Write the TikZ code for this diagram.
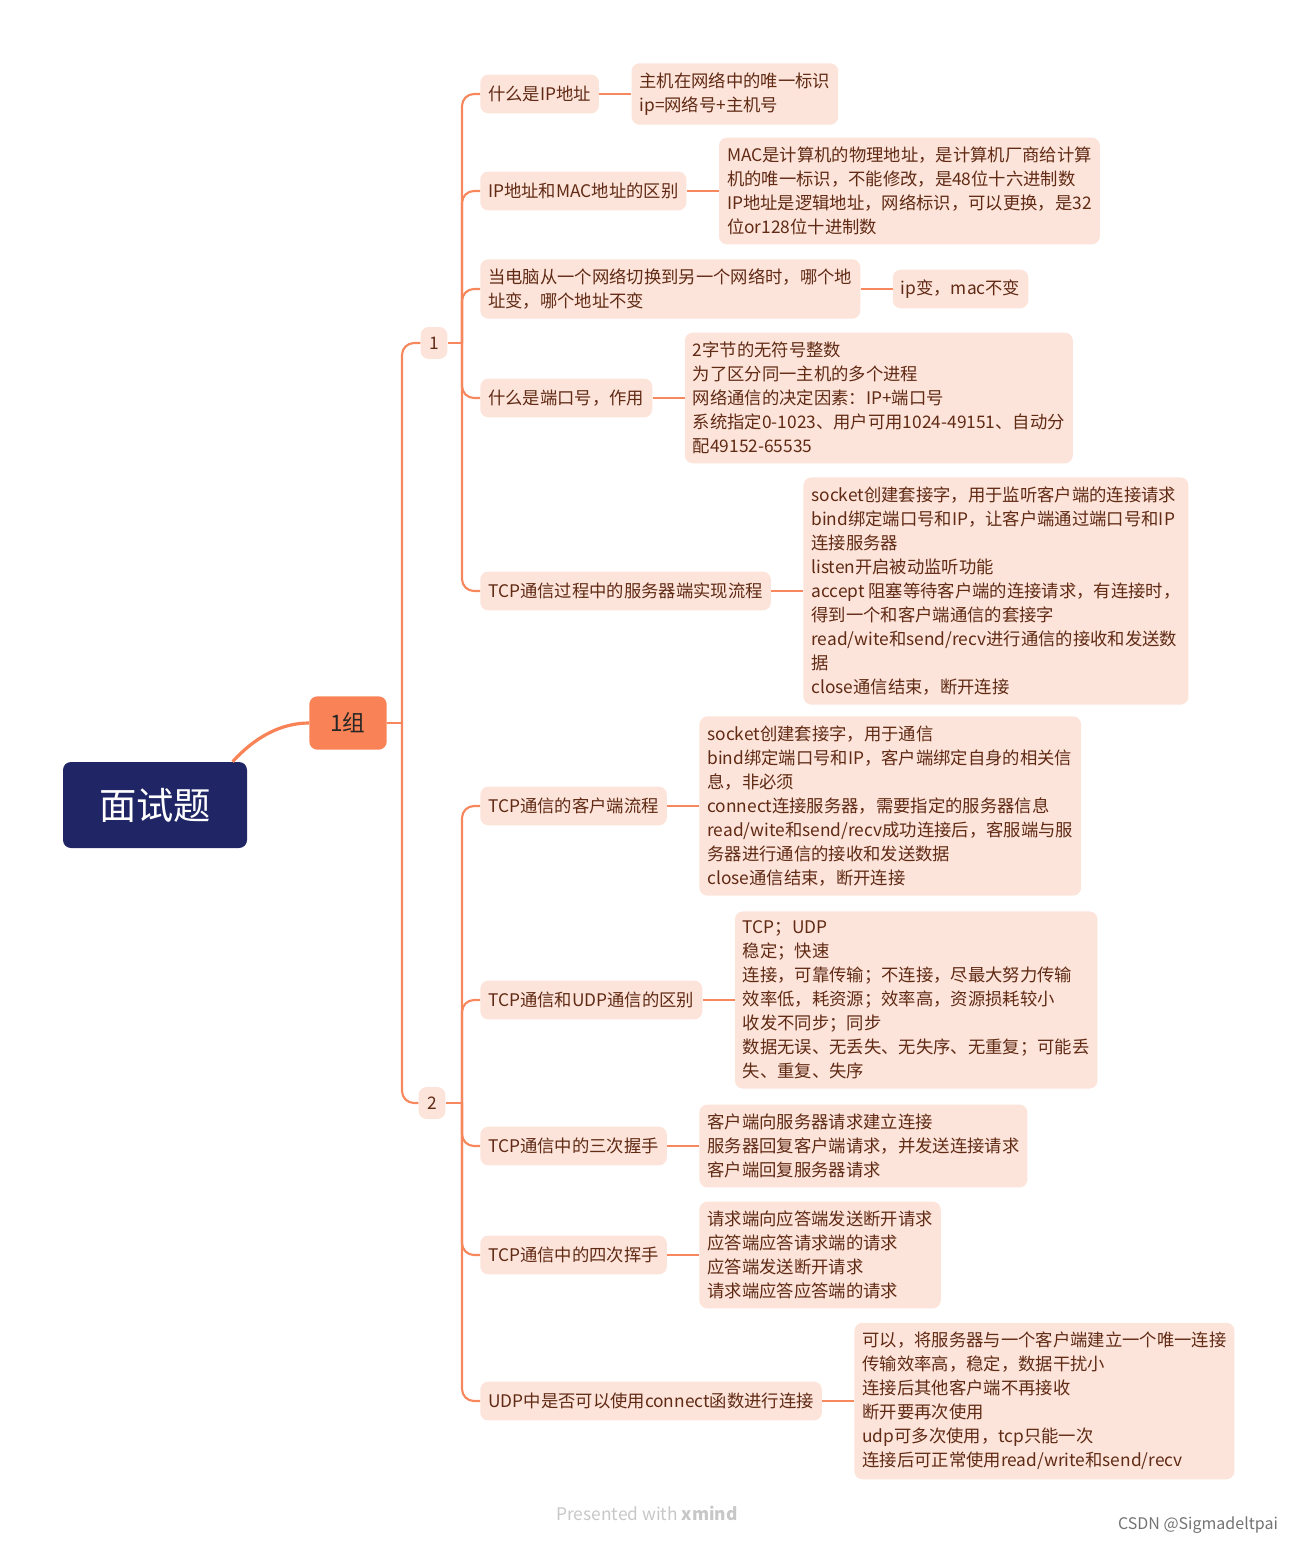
\documentclass[tikz,border=0pt]{standalone}
\usepackage{fontspec}
\setmainfont{Noto Sans CJK SC}
\usepackage{xcolor}
\usepackage{tikz}
\usetikzlibrary{positioning}
\definecolor{navy}{RGB}{31,37,101}
\definecolor{grporange}{RGB}{249,131,86}
\definecolor{linkorange}{RGB}{247,135,92}
\definecolor{peach}{RGB}{253,228,218}
\definecolor{txtbrown}{RGB}{96,42,20}

\begin{document}
\begin{tikzpicture}[
    x=0.75pt, y=-0.75pt,
    link/.style={draw=linkorange, line width=1.6pt},
    rootbox/.style={fill=navy, text=white, rounded corners=6pt, minimum width=138pt, minimum height=64.5pt, font=\fontsize{28}{32}\selectfont},
    grpbox/.style={fill=grporange, text=black!85, rounded corners=6pt, minimum width=58pt, minimum height=40pt, font=\fontsize{17}{20}\selectfont},
    numbox/.style={fill=peach, text=txtbrown, rounded corners=6pt, minimum width=20pt, minimum height=24pt, font=\fontsize{13}{18}\selectfont},
    topic/.style={fill=peach, text=txtbrown, rounded corners=6pt, align=left, inner xsep=6pt, inner ysep=7pt, minimum height=29pt, anchor=west, font=\fontsize{13}{18}\selectfont},
    leaf/.style={topic, right=24pt of #1},
    credit/.style={font=\fontsize{13}{16}\selectfont, text=black!22}
]
\useasboundingbox (0,0) rectangle (1296,1545);

\node[rootbox] (root) at (155,805) {面试题};
\node[grpbox] (grp) at (348,723) {1组};
\node[numbox] (n1) at (434,343) {1};
\node[numbox] (n2) at (432,1103) {2};

\node[topic] (qa) at (480,94) {什么是IP地址};
\node[leaf=qa] (aa) {主机在网络中的唯一标识\\ip=网络号+主机号};
\node[topic] (qb) at (480,191) {IP地址和MAC地址的区别};
\node[leaf=qb] (ab) {MAC是计算机的物理地址，是计算机厂商给计算\\机的唯一标识，不能修改，是48位十六进制数\\IP地址是逻辑地址，网络标识，可以更换，是32\\位or128位十进制数};
\node[topic] (qc) at (480,289) {当电脑从一个网络切换到另一个网络时，哪个地\\址变，哪个地址不变};
\node[leaf=qc] (ac) {ip变，mac不变};
\node[topic] (qd) at (480,398) {什么是端口号，作用};
\node[leaf=qd] (ad) {2字节的无符号整数\\为了区分同一主机的多个进程\\网络通信的决定因素：IP+端口号\\系统指定0-1023、用户可用1024-49151、自动分\\配49152-65535};
\node[topic] (qe) at (480,591) {TCP通信过程中的服务器端实现流程};
\node[leaf=qe] (ae) {socket创建套接字，用于监听客户端的连接请求\\bind绑定端口号和IP，让客户端通过端口号和IP\\连接服务器\\listen开启被动监听功能\\accept 阻塞等待客户端的连接请求，有连接时，\\得到一个和客户端通信的套接字\\read/wite和send/recv进行通信的接收和发送数\\据\\close通信结束，断开连接};

\node[topic] (qf) at (480,806) {TCP通信的客户端流程};
\node[leaf=qf] (af) {socket创建套接字，用于通信\\bind绑定端口号和IP，客户端绑定自身的相关信\\息，非必须\\connect连接服务器，需要指定的服务器信息\\read/wite和send/recv成功连接后，客服端与服\\务器进行通信的接收和发送数据\\close通信结束，断开连接};
\node[topic] (qg) at (480,1000) {TCP通信和UDP通信的区别};
\node[leaf=qg] (ag) {TCP；UDP\\稳定；快速\\连接，可靠传输；不连接，尽最大努力传输\\效率低，耗资源；效率高，资源损耗较小\\收发不同步；同步\\数据无误、无丢失、无失序、无重复；可能丢\\失、重复、失序};
\node[topic] (qh) at (480,1146) {TCP通信中的三次握手};
\node[leaf=qh] (ah) {客户端向服务器请求建立连接\\服务器回复客户端请求，并发送连接请求\\客户端回复服务器请求};
\node[topic] (qi) at (480,1255) {TCP通信中的四次挥手};
\node[leaf=qi] (ai) {请求端向应答端发送断开请求\\应答端应答请求端的请求\\应答端发送断开请求\\请求端应答应答端的请求};
\node[topic] (qj) at (480,1401) {UDP中是否可以使用connect函数进行连接};
\node[leaf=qj] (aj) {可以，将服务器与一个客户端建立一个唯一连接\\传输效率高，稳定，数据干扰小\\连接后其他客户端不再接收\\断开要再次使用\\udp可多次使用，tcp只能一次\\连接后可正常使用read/write和send/recv};

\draw[link, draw=grporange, line width=2.4pt] ([xshift=-11pt]root.north east) .. controls (256,736) and (282,723) .. (grp.west);
\coordinate (j0) at (402,723);
\coordinate (j1) at (462,343);
\coordinate (j2) at (462,1103);
\draw[link] (grp.east) -- (j0);
\draw[link, rounded corners=9pt] (j0) |- (n1.west);
\draw[link, rounded corners=9pt] (j0) |- (n2.west);
\draw[link] (n1.east) -- (j1);
\draw[link] (n2.east) -- (j2);
\foreach \q in {qa,qb,qc,qd,qe}
    \draw[link, rounded corners=9pt] (j1) |- (\q.west);
\foreach \q in {qf,qg,qh,qi,qj}
    \draw[link, rounded corners=9pt] (j2) |- (\q.west);
\foreach \q/\a in {qa/aa,qb/ab,qc/ac,qd/ad,qe/ae,qf/af,qg/ag,qh/ah,qi/ai,qj/aj}
    \draw[link] (\q.east) -- (\a.west);

\node[credit] (xm) at (647,1513) {Presented with \textbf{xmind}};
\node[font=\fontsize{12}{14}\selectfont, text=black!55] (csdn) at (1198,1525) {CSDN @Sigmadeltpai};
\end{tikzpicture}
\end{document}
